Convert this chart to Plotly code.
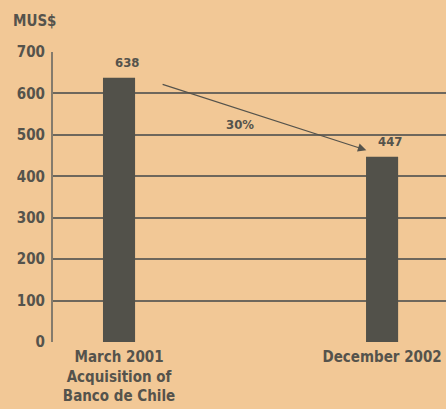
import plotly.graph_objects as go

categories = ["March 2001<br>Acquisition of<br>Banco de Chile", "December 2002"]
values = [638, 447]
value_labels = ["638", "447"]
y_ticks = [0, 100, 200, 300, 400, 500, 600, 700]
change_label = "30%"
unit_label = "MUS$"

bg = "#F2C896"
bar_color = "#52514A"
text_color = "#55534C"
line_color = "#6E675C"
axis_color = "#857B6C"
font_family = "DejaVu Sans Condensed, DejaVu Sans, sans-serif"

xs = list(range(len(categories)))

fig = go.Figure()
fig.add_trace(go.Bar(x=xs, y=values, width=0.122, marker=dict(color=bar_color, line=dict(width=0)),
                     hoverinfo="skip"))

for x, v, t in zip(xs, values, value_labels):
    fig.add_annotation(x=x, y=v, text=t, showarrow=False, yanchor="bottom", yshift=6, xshift=8,
                       font=dict(size=13, color=text_color, family=font_family, weight="bold"))

# arrow showing change
fig.add_annotation(x=0.94, y=463, ax=0.16, ay=623, xref="x", yref="y", axref="x", ayref="y",
                   text="", showarrow=True, arrowhead=2, arrowsize=1.4, arrowwidth=1.2,
                   arrowcolor=text_color)
fig.add_annotation(x=0.46, y=526, text=change_label, showarrow=False,
                   font=dict(size=13, color=text_color, family=font_family, weight="bold"))

fig.add_annotation(x=0, y=1.0, xref="paper", yref="paper", text=unit_label,
                   showarrow=False, xanchor="left", yanchor="middle", yshift=31, xshift=-42,
                   font=dict(size=15, color=text_color, family=font_family, weight="bold"))

fig.update_layout(
    width=446, height=409,
    margin=dict(l=53, r=0, t=52, b=67),
    paper_bgcolor=bg, plot_bgcolor=bg,
    showlegend=False,
    font=dict(family=font_family, color=text_color, size=14),
    xaxis=dict(range=[-0.251, 1.243], tickmode="array", tickvals=xs, ticktext=categories,
               showgrid=False, zeroline=False, showline=False, ticks="", ticklabelstandoff=4,
               tickfont=dict(size=15, color=text_color, weight="bold"), fixedrange=True),
    yaxis=dict(range=[0, 700], tickmode="array", tickvals=y_ticks,
               showgrid=True, gridcolor=line_color, gridwidth=1.5,
               zeroline=False, showline=True, linecolor=axis_color, linewidth=2,
               ticks="", ticklabelstandoff=3,
               tickfont=dict(size=15, color=text_color, weight="bold"), fixedrange=True),
)

fig.write_html("out.html", config={"displayModeBar": False},
               post_script="document.body.style.margin='0';document.body.style.background='" + bg + "';")
